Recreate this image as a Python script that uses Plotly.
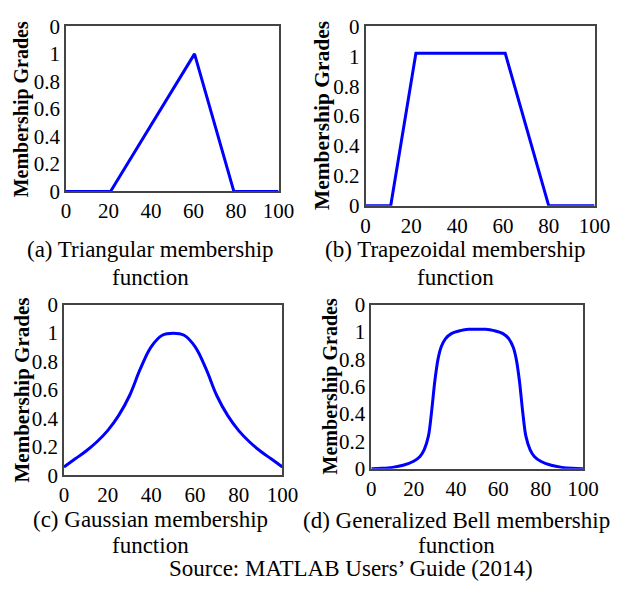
import plotly.graph_objects as go

# ---- data ----
tri_x = [0, 21, 60.5, 79, 100]
tri_y = [0, 0, 1.0, 0, 0]

trap_x = [0, 11, 22, 61, 80, 100]
trap_y = [0, 0, 1.02, 1.02, 0, 0]

gauss_x = [0, 5, 10, 15, 20, 25, 30, 35, 40, 45, 50, 55, 60, 65, 70, 75, 80, 85, 90, 95, 100]
gauss_y = [0.06, 0.115, 0.17, 0.235, 0.315, 0.42, 0.56, 0.75, 0.905, 0.985, 1.0,
           0.985, 0.905, 0.75, 0.56, 0.42, 0.315, 0.235, 0.17, 0.115, 0.06]

bell_x = [0, 5, 10, 15, 20, 23, 25, 27, 28.5, 30, 31.5, 33, 35, 38, 42, 46, 50,
          54, 58, 62, 65, 67, 68.5, 70, 71.5, 73, 75, 77, 80, 85, 90, 95, 100]
bell_y = [0, 0.003, 0.01, 0.025, 0.055, 0.09, 0.14, 0.24, 0.42, 0.64, 0.80, 0.89, 0.95, 0.99, 1.01, 1.02, 1.02,
          1.02, 1.01, 0.99, 0.95, 0.89, 0.80, 0.64, 0.42, 0.24, 0.14, 0.09, 0.055, 0.025, 0.01, 0.003, 0]

x_ticks = [0, 20, 40, 60, 80, 100]
y_tickvals = [0, 0.2, 0.4, 0.6, 0.8, 1.0, 1.2]
y_ticktext = ["0", "0.2", "0.4", "0.6", "0.8", "1", "0"]

captions = [
    ["(a) Triangular membership", "function"],
    ["(b) Trapezoidal membership", "function"],
    ["(c) Gaussian membership", "function"],
    ["(d) Generalized Bell membership", "function"],
]
source_text = "Source: MATLAB Users\u2019 Guide (2014)"
y_title = "Membership Grades"

# ---- layout geometry (pixels) ----
W, H = 627, 593
panels = [
    dict(l=63, r=283, t=15, b=187, tx=18, tf=20, kf=21, shape="linear", sm=1.0),
    dict(l=373, r=610, t=15, b=202, tx=328, tf=21.5, kf=21, shape="linear", sm=1.0),
    dict(l=61, r=287, t=305, b=483, tx=18, tf=21, kf=21, shape="spline", sm=1.1),
    dict(l=379, r=598, t=305, b=476, tx=337, tf=20, kf=21, shape="spline", sm=0.9),
]
cap_pos = [(151, 247, 277), (466, 248, 277), (151, 529, 556), (467, 530, 556)]

FONT = "Liberation Serif"
BLUE = "#0000FF"

series = [(tri_x, tri_y), (trap_x, trap_y), (gauss_x, gauss_y), (bell_x, bell_y)]

fig = go.Figure()
layout = dict(
    width=W, height=H, margin=dict(l=0, r=0, t=0, b=0),
    paper_bgcolor="white", plot_bgcolor="white", showlegend=False,
    font=dict(family=FONT, color="black"),
)
annotations = []
for i, (p, (xs, ys)) in enumerate(zip(panels, series)):
    n = "" if i == 0 else str(i + 1)
    fig.add_trace(go.Scatter(
        x=xs, y=ys, mode="lines", xaxis="x" + n, yaxis="y" + n,
        line=dict(color=BLUE, width=3, shape=p["shape"], smoothing=p["sm"]),
        hoverinfo="skip",
    ))
    layout["xaxis" + n] = dict(
        domain=[p["l"] / W, p["r"] / W], anchor="y" + n, range=[0, 100],
        tickvals=x_ticks, showgrid=False, zeroline=False,
        showline=True, mirror=True, linecolor="#444", linewidth=1.5,
        ticks="", tickfont=dict(size=p["kf"], family=FONT, color="black"),
    )
    layout["yaxis" + n] = dict(
        domain=[1 - p["b"] / H, 1 - p["t"] / H], anchor="x" + n, range=[0, 1.2],
        tickvals=y_tickvals, ticktext=y_ticktext, showgrid=False, zeroline=False,
        showline=True, mirror=True, linecolor="#444", linewidth=1.5,
        ticks="", tickfont=dict(size=p["kf"], family=FONT, color="black"),
    )
    annotations.append(dict(
        text="<b>" + y_title + "</b>", textangle=-90, xref="paper", yref="paper",
        x=p["tx"] / W, y=1 - ((p["t"] + p["b"]) / 2) / H, xanchor="center", yanchor="middle",
        showarrow=False, font=dict(size=p["tf"], family=FONT, color="black"),
    ))
    cx, y1, y2 = cap_pos[i]
    for line, yy in zip(captions[i], (y1, y2)):
        annotations.append(dict(
            text=line, xref="paper", yref="paper", x=cx / W, y=1 - yy / H,
            xanchor="center", yanchor="middle", showarrow=False,
            font=dict(size=23, family=FONT, color="black"),
        ))

annotations.append(dict(
    text=source_text, xref="paper", yref="paper", x=358 / W, y=1 - 580 / H,
    xanchor="center", yanchor="middle", showarrow=False,
    font=dict(size=23, family=FONT, color="black"),
))
layout["annotations"] = annotations
fig.update_layout(**layout)
fig.write_html("out.html")
